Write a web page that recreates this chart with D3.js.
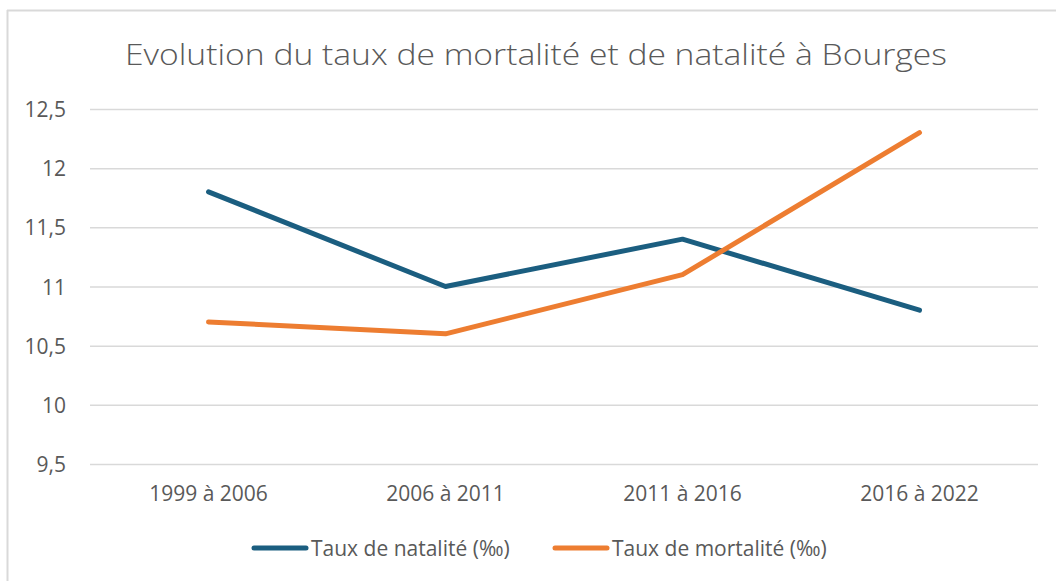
<!DOCTYPE html>
<html>
<head>
<meta charset="utf-8">
<script src="https://cdn.jsdelivr.net/npm/d3@7"></script>
<style>
  body { margin: 0; background: #fff; }
  svg text { font-family: "Open Sans", "Liberation Sans", sans-serif; fill: #595959; }
</style>
</head>
<body>
<div class="chart"></div>
<script>
// data
const categories = ['1999 à 2006', '2006 à 2011', '2011 à 2016', '2016 à 2022'];
const natalite = [11.8, 11.0, 11.4, 10.8];
const mortalite = [10.7, 10.6, 11.1, 12.3];
const yTicks = [9.5, 10, 10.5, 11, 11.5, 12, 12.5];
const seriesNames = ['Taux de natalité (‰)', 'Taux de mortalité (‰)'];

const Width = 1056;
const Height = 581;
const colors = ['#1b5e80', '#ed7d31'];
const labelSize = 21;

const svg = d3.select('.chart').append('svg').attr('width', Width).attr('height', Height);

// chart border (left + top visible)
svg.append('line').attr('x1', 7).attr('x2', Width).attr('y1', 10.5).attr('y2', 10.5)
  .attr('stroke', '#d9d9d9').attr('stroke-width', 2);
svg.append('line').attr('x1', 7.5).attr('x2', 7.5).attr('y1', 10).attr('y2', Height)
  .attr('stroke', '#d9d9d9').attr('stroke-width', 2);

// title
svg.append('text').attr('x', 536).attr('y', 65).attr('text-anchor', 'middle')
  .attr('font-size', 29).attr('font-weight', 300)
  .attr('textLength', 822).attr('lengthAdjust', 'spacingAndGlyphs')
  .text('Evolution du taux de mortalité et de natalité à Bourges');

const x = d3.scaleBand().domain(categories).range([90, 1038]);
const y = d3.scaleLinear().domain([9.5, 12.5]).range([464, 109]);

// gridlines + y labels
const yAxis = svg.append('g').attr('transform', 'translate(90,0)')
  .call(d3.axisLeft(y).tickValues(yTicks).tickSize(-948).tickPadding(24)
    .tickFormat(d => d3.format('')(d).replace('.', ',')));
yAxis.select('.domain').remove();
yAxis.selectAll('line').attr('stroke', '#d9d9d9').attr('stroke-width', 1.5);
yAxis.selectAll('text').attr('font-size', labelSize).attr('fill', '#595959')
  .attr('font-family', '"Open Sans", sans-serif').attr('dy', '0.36em');

// x labels
const xAxis = svg.append('g').attr('transform', 'translate(0,464)')
  .call(d3.axisBottom(x).tickSize(0));
xAxis.select('.domain').remove();
xAxis.selectAll('text').attr('font-size', labelSize).attr('fill', '#595959')
  .attr('font-family', '"Open Sans", sans-serif').attr('dy', null).attr('y', 37);

// lines
const line = d3.line()
  .x((d, i) => x(categories[i]) + x.bandwidth() / 2)
  .y(d => y(d));

[natalite, mortalite].forEach((s, k) => {
  svg.append('path').datum(s).attr('d', line)
    .attr('fill', 'none').attr('stroke', colors[k]).attr('stroke-width', 5)
    .attr('stroke-linecap', 'round').attr('stroke-linejoin', 'round');
});

// legend
const legendX = [254, 555];
seriesNames.forEach((name, k) => {
  const g = svg.append('g').attr('transform', 'translate(' + legendX[k] + ',548)');
  g.append('line').attr('x1', 0).attr('x2', 52).attr('y1', 0).attr('y2', 0)
    .attr('stroke', colors[k]).attr('stroke-width', 5).attr('stroke-linecap', 'round');
  g.append('text').attr('x', 57).attr('y', 8).attr('font-size', labelSize).text(name);
});
</script>
</body>
</html>
